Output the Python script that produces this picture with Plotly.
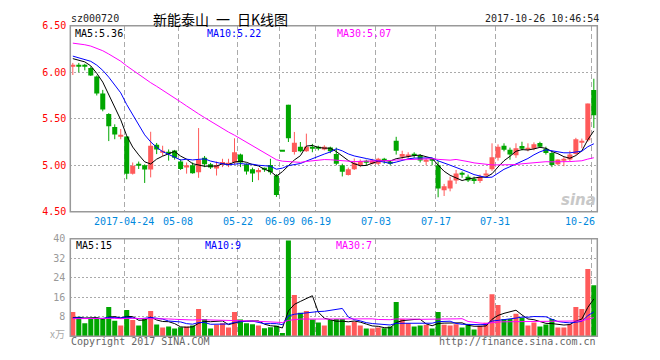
import plotly.graph_objects as go

# ---------------- data ----------------
dates = ["2017-04-11", "2017-04-12", "2017-04-13", "2017-04-14", "2017-04-17", "2017-04-18",
         "2017-04-19", "2017-04-20", "2017-04-21", "2017-04-24", "2017-04-25", "2017-04-26",
         "2017-04-27", "2017-04-28", "2017-05-02", "2017-05-03", "2017-05-04", "2017-05-05",
         "2017-05-08", "2017-05-09", "2017-05-10", "2017-05-11", "2017-05-12", "2017-05-15",
         "2017-05-16", "2017-05-17", "2017-05-18", "2017-05-19", "2017-05-22", "2017-05-23",
         "2017-05-24", "2017-05-25", "2017-05-26", "2017-05-31", "2017-06-01", "2017-06-09",
         "2017-06-12", "2017-06-13", "2017-06-14", "2017-06-15", "2017-06-16", "2017-06-19",
         "2017-06-20", "2017-06-21", "2017-06-22", "2017-06-23", "2017-06-26", "2017-06-27",
         "2017-06-28", "2017-06-29", "2017-06-30", "2017-07-03", "2017-07-04", "2017-07-05",
         "2017-07-06", "2017-07-07", "2017-07-10", "2017-07-11", "2017-07-12", "2017-07-13",
         "2017-07-14", "2017-07-17", "2017-07-18", "2017-07-19", "2017-07-20", "2017-07-21",
         "2017-07-24", "2017-07-25", "2017-07-26", "2017-07-27", "2017-07-28", "2017-07-31",
         "2017-08-01", "2017-08-02", "2017-08-03", "2017-08-04", "2017-08-07", "2017-08-08",
         "2017-08-09", "2017-08-10", "2017-08-11", "2017-08-14", "2017-08-15", "2017-08-16",
         "2017-08-17", "2017-08-18", "2017-08-21", "2017-10-26"]

opens = [6.06, 6.075, 6.075, 6.045, 5.955, 5.77, 5.55, 5.41, 5.31, 5.31,
         4.91, 5.005, 5.0, 4.955, 5.22, 5.14, 5.135, 5.16, 5.04, 4.975,
         5.0, 4.925, 5.08, 5.01, 4.965, 5.01, 5.01, 5.03, 5.115, 5.01,
         4.958, 4.924, 4.962, 5.003, 4.89, 5.15, 5.65, 5.142, 5.20, 5.15,
         5.19, 5.19, 5.17, 5.19, 5.12, 5.0, 4.896, 4.958, 5.003, 5.035,
         5.017, 5.017, 5.055, 5.03, 5.264, 5.10, 5.097, 5.11, 5.108, 5.045,
         5.055, 5.0, 4.733, 4.75, 4.837, 4.91, 4.878, 4.854, 4.83, 4.889,
         4.958, 5.08, 5.21, 5.167, 5.108, 5.208, 5.175, 5.177, 5.24, 5.177,
         5.132, 5.01, 5.06, 5.063, 5.12, 5.25, 5.27, 5.81]
highs = [6.10, 6.10, 6.09, 6.06, 5.965, 5.81, 5.56, 5.44, 5.39, 5.31,
         5.03, 5.04, 5.01, 5.36, 5.24, 5.21, 5.17, 5.165, 5.065, 5.03,
         5.03, 5.40, 5.10, 5.025, 5.04, 5.07, 5.07, 5.29, 5.125, 5.02,
         4.975, 4.97, 4.975, 5.07, 4.905, 5.15, 5.65, 5.358, 5.25, 5.34,
         5.23, 5.21, 5.215, 5.20, 5.19, 5.017, 4.975, 5.073, 5.062, 5.06,
         5.07, 5.08, 5.08, 5.05, 5.306, 5.156, 5.14, 5.14, 5.12, 5.073,
         5.073, 5.045, 4.80, 4.878, 4.95, 4.934, 4.90, 4.878, 4.90, 4.95,
         5.236, 5.225, 5.236, 5.19, 5.236, 5.253, 5.236, 5.246, 5.253, 5.20,
         5.15, 5.063, 5.087, 5.156, 5.295, 5.287, 5.663, 5.93]
lows = [5.97, 6.00, 6.02, 5.96, 5.75, 5.58, 5.26, 5.28, 5.28, 4.85,
        4.90, 4.96, 4.81, 4.87, 5.12, 5.10, 5.05, 5.06, 4.95, 4.91,
        4.91, 4.865, 4.98, 4.96, 4.89, 4.98, 4.98, 5.01, 4.98, 4.90,
        4.82, 4.84, 4.93, 4.90, 4.66, 5.15, 5.25, 5.115, 5.14, 5.145,
        5.14, 5.16, 5.16, 5.13, 5.00, 4.88, 4.89, 4.95, 4.98, 5.0,
        5.01, 5.003, 5.017, 5.0, 5.115, 5.07, 5.073, 5.08, 5.03, 5.0,
        5.0, 4.656, 4.67, 4.72, 4.80, 4.865, 4.82, 4.80, 4.81, 4.87,
        4.94, 5.05, 5.15, 5.06, 5.08, 5.16, 5.15, 5.16, 5.19, 5.115,
        4.98, 5.0, 4.99, 5.045, 5.115, 5.184, 5.253, 5.40]
closes = [6.07, 6.07, 6.065, 5.965, 5.77, 5.60, 5.42, 5.33, 5.325, 4.91,
          4.995, 5.0, 4.955, 5.21, 5.17, 5.155, 5.13, 5.08, 4.96, 5.0,
          4.915, 5.06, 5.01, 4.975, 5.0, 5.035, 5.02, 5.14, 5.03, 4.934,
          4.913, 4.948, 4.955, 4.924, 4.68, 5.15, 5.29, 5.243, 5.15, 5.20,
          5.184, 5.185, 5.20, 5.15, 5.017, 4.93, 4.958, 5.028, 5.045, 5.03,
          5.052, 5.07, 5.05, 5.026, 5.156, 5.12, 5.115, 5.105, 5.052, 5.052,
          5.05, 4.75, 4.774, 4.837, 4.913, 4.906, 4.837, 4.83, 4.878, 4.913,
          5.087, 5.20, 5.167, 5.115, 5.184, 5.177, 5.177, 5.226, 5.20, 5.132,
          5.003, 5.063, 5.063, 5.115, 5.28, 5.253, 5.663, 5.538]
volumes = [10, 8, 5.3, 7.3, 7.6, 7.1, 12, 6.4, 4.4, 10.8,
           6.7, 4.4, 7.1, 10.4, 4.8, 3.6, 4.0, 3.2, 3.7, 4.0,
           4.4, 11.2, 7.1, 3.2, 4.7, 5.3, 3.6, 10, 6.9, 5.3,
           4.9, 4.4, 3.3, 3.7, 4.3, 1.3, 39.3, 16.9, 9.6, 10.4,
           6.9, 5.7, 4.4, 6.7, 7.1, 7.1, 4.4, 6.0, 4.4, 3.2,
           3.2, 3.6, 3.3, 4.0, 14, 7.1, 5.3, 4.0, 4.4, 4.7,
           3.2, 10, 4.7, 4.4, 4.9, 3.6, 4.9, 2.8, 4.3, 5.6,
           17.2, 12.8, 7.1, 7.1, 9.2, 7.6, 4.4, 5.7, 4.0, 4.8,
           7.1, 3.6, 3.6, 4.9, 12, 11.2, 27.6, 20.9]

# estimated sessions before the visible window (only used to warm up the moving averages)
prior_closes = [6.30, 6.35, 6.40, 6.42, 6.45, 6.48, 6.50, 6.46, 6.44, 6.42,
                6.40, 6.38, 6.36, 6.35, 6.36, 6.34, 6.33, 6.32, 6.30, 6.28,
                6.24, 6.22, 6.20, 6.18, 6.16, 6.15, 6.16, 6.18, 6.17]
prior_volumes = [6.5, 7.2, 8.0, 6.8, 7.5, 6.2, 7.0, 8.5, 6.0, 7.3,
                 6.8, 7.6, 6.4, 7.9, 6.6, 7.1, 6.9, 7.4, 6.3, 7.2,
                 7.0, 8.2, 7.5, 6.8, 7.7, 7.4, 6.5, 7.2, 6.9]

tick_dates = ["2017-04-24", "2017-05-08", "2017-05-22", "2017-06-09", "2017-06-19",
              "2017-07-03", "2017-07-17", "2017-07-31", "2017-10-26"]
tick_labels = ["2017-04-24", "05-08", "05-22", "06-09", "06-19", "07-03", "07-17", "07-31", "10-26"]
price_ticks = [4.5, 5.0, 5.5, 6.0, 6.5]
volume_ticks = [8, 16, 24, 32, 40]

# ---------------- styling ----------------
W, H = 660, 360
RED, GREEN = "#ff5a5a", "#00a600"
MONO = "DejaVu Sans Mono, Liberation Mono, monospace"
CJK = "Noto Sans CJK SC"
GRID = "#aaaaaa"
PL, PR = 70.3, 597.3          # panel left/right (px)
P_TOP, P_BOT = 20.3, 212.3    # price panel
V_TOP, V_BOT = 240.0, 340.7   # volume panel

n = len(closes)
idx = list(range(n))
xr = [-0.42, n - 0.42]


def ma(series, prior, k):
    full = prior + series
    off = len(prior)
    return [sum(full[off + i - k + 1: off + i + 1]) / k for i in range(len(series))]


up = [c > o for o, c in zip(opens, closes)]
colors = [RED if u else GREEN for u in up]
body_base = [min(o, c) for o, c in zip(opens, closes)]
body_h = [max(abs(c - o), 0.011) for o, c in zip(opens, closes)]

fig = go.Figure()

# candle wicks
for flag, col in ((True, RED), (False, GREEN)):
    wx, wy = [], []
    for i in idx:
        if up[i] == flag:
            wx += [i, i, None]
            wy += [lows[i], highs[i], None]
    fig.add_trace(go.Scatter(x=wx, y=wy, mode="lines", line=dict(color=col, width=1),
                             hoverinfo="skip", showlegend=False, xaxis="x", yaxis="y"))

# candle bodies
fig.add_trace(go.Bar(x=idx, y=body_h, base=body_base, width=0.84,
                     marker=dict(color=colors, line=dict(width=0)),
                     customdata=dates, showlegend=False, xaxis="x", yaxis="y"))

# price moving averages
for k, col in ((5, "#000000"), (10, "#0000ff"), (30, "#ff00ff")):
    fig.add_trace(go.Scatter(x=idx, y=ma(closes, prior_closes, k), mode="lines",
                             line=dict(color=col, width=1), hoverinfo="skip",
                             showlegend=False, xaxis="x", yaxis="y"))

# volume bars
fig.add_trace(go.Bar(x=idx, y=volumes, width=0.84,
                     marker=dict(color=colors, line=dict(width=0)),
                     customdata=dates, showlegend=False, xaxis="x2", yaxis="y2"))

# volume moving averages
for k, col in ((5, "#000000"), (10, "#0000ff"), (30, "#ff00ff")):
    fig.add_trace(go.Scatter(x=idx, y=ma(volumes, prior_volumes, k), mode="lines",
                             line=dict(color=col, width=1), hoverinfo="skip",
                             showlegend=False, xaxis="x2", yaxis="y2"))

tick_pos = [dates.index(d) - 0.42 for d in tick_dates]

xdom = [PL / W, PR / W]
common_x = dict(domain=xdom, range=xr, showticklabels=False, zeroline=False, showline=False,
                tickvals=tick_pos, ticks="", showgrid=True, gridcolor=GRID, gridwidth=1,
                griddash="5px,3px", fixedrange=True)
fig.update_layout(
    width=W, height=H, margin=dict(l=0, r=0, t=0, b=0),
    paper_bgcolor="white", plot_bgcolor="white",
    barmode="overlay", showlegend=False,
    xaxis=dict(**common_x, anchor="y"),
    xaxis2=dict(**common_x, anchor="y2"),
    yaxis=dict(domain=[1 - P_BOT / H, 1 - P_TOP / H], range=[4.5, 6.5],
               tickvals=price_ticks, ticktext=["%.2f" % v for v in price_ticks],
               tickfont=dict(family=MONO, size=10, color="#ff0000"),
               showgrid=True, gridcolor=GRID, griddash="2px,2px", gridwidth=1,
               zeroline=False, showline=False, ticks="", ticklabelstandoff=3,
               anchor="x", fixedrange=True),
    yaxis2=dict(domain=[1 - V_BOT / H, 1 - V_TOP / H], range=[0, 40],
                tickvals=volume_ticks, ticktext=[str(v) for v in volume_ticks],
                tickfont=dict(family=MONO, size=10, color="#999999"),
                showgrid=True, gridcolor=GRID, griddash="2px,2px", gridwidth=1,
                zeroline=False, showline=False, ticks="", ticklabelstandoff=4,
                anchor="x2", fixedrange=True),
)

# panel borders
for top, bot in ((P_TOP, P_BOT), (V_TOP, V_BOT)):
    fig.add_shape(type="rect", xref="paper", yref="paper",
                  x0=PL / W, x1=PR / W, y0=1 - bot / H, y1=1 - top / H,
                  line=dict(color="#999999", width=1.5), layer="above")


def txt(s, x, y, color="#000000", size=10, family=MONO, anchor="left", **kw):
    fig.add_annotation(text=s, x=x / W, y=1 - y / H, xref="paper", yref="paper",
                       xanchor=anchor, yanchor="middle", showarrow=False,
                       font=dict(family=family, size=size, color=color), **kw)


# header
txt("sz000720", 69, 13, color="#222222", size=10)
txt("新能泰山\u2002一\u2002日K线图", 151, 13, size=14, family=CJK)
txt("2017-10-26 10:46:54", 601, 13, color="#222222", anchor="right")

# MA legends
txt("MA5:5.36", 73, 28)
txt("MA10:5.22", 205, 28, color="#0000ff")
txt("MA30:5.07", 335, 28, color="#ff00ff")
txt("MA5:15", 74, 247)
txt("MA10:9", 203, 247, color="#0000ff")
txt("MA30:7", 334, 247, color="#ff00ff")

# date labels
for pos, lab in zip(tick_pos, tick_labels):
    if lab == tick_labels[-1]:
        fig.add_annotation(text=lab, x=xr[1], y=1 - 222 / H, xref="x", yref="paper",
                           xanchor="right", yanchor="middle", showarrow=False,
                           font=dict(family=MONO, size=10, color="#0088dd"))
    else:
        fig.add_annotation(text=lab, x=pos, y=1 - 222 / H, xref="x", yref="paper",
                           xanchor="center", yanchor="middle", showarrow=False,
                           font=dict(family=MONO, size=10, color="#0088dd"))

# volume unit and footer
txt("x万", 67, 338, color="#aaaaaa", size=10, family=CJK, anchor="right")
txt("Copyright 2017 SINA.COM", 69, 346, color="#666666")
txt("http://finance.sina.com.cn", 598, 346, color="#666666", anchor="right")

# watermark
txt("<b><i>sina</i></b>", 598, 200, color="#c8c8c8", size=15, family="DejaVu Sans", anchor="right")

fig.write_html("out.html")
